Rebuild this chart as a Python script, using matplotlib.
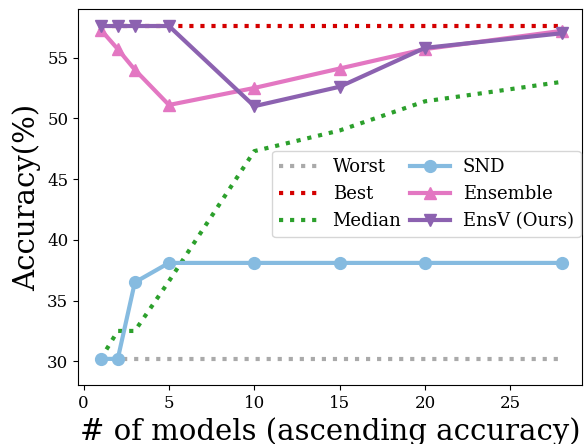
import numpy as np
import matplotlib
matplotlib.use('Agg')
import matplotlib.pyplot as plt

plt.rcParams['font.family'] = 'DejaVu Serif'

# numero de modelos y precision de cada metodo
n_models = [1, 2, 3, 5, 10, 15, 20, 28]
worst = [30.2, 30.2, 30.2, 30.2, 30.2, 30.2, 30.2, 30.2]
best = [57.6, 57.6, 57.6, 57.6, 57.6, 57.6, 57.6, 57.6]
median = [30.2, 32.5, 32.5, 36.6, 47.3, 49.0, 51.4, 53.0]
snd = [30.2, 30.2, 36.5, 38.1, 38.1, 38.1, 38.1, 38.1]
ensemble = [57.3, 55.7, 54.0, 51.1, 52.5, 54.1, 55.7, 57.2]
ensv = [57.6, 57.6, 57.6, 57.6, 51.0, 52.6, 55.8, 57.0]

fig = plt.figure(figsize=(5.87, 4.44), dpi=100)
ax = fig.add_axes([78/587, 59/444, 504/587, 376/444])

ax.plot(n_models, worst, ':', color='#aaaaaa', lw=3, label='Worst')
ax.plot(n_models, best, ':', color='#d40000', lw=3, label='Best')
ax.plot(n_models, median, ':', color='#2ca02c', lw=3, label='Median')
ax.plot(n_models, snd, '-o', color='#86bbe0', lw=3, ms=8.5, label='SND')
ax.plot(n_models, ensemble, '-^', color='#e377c2', lw=3, ms=8.5, label='Ensemble')
ax.plot(n_models, ensv, '-v', color='#8c62b0', lw=3, ms=8.5, label='EnsV (Ours)')

ax.set_xlim(-0.33, 29.2)
ax.set_ylim(28.05, 59.0)
ax.set_xticks([0, 5, 10, 15, 20, 25])
ax.set_yticks([30, 35, 40, 45, 50, 55])
ax.tick_params(labelsize=12)
ax.set_xlabel('# of models (ascending accuracy)', fontsize=21, labelpad=4)
ax.set_ylabel('Accuracy(%)', fontsize=21, labelpad=4)

ax.legend(ncol=2, fontsize=13, columnspacing=0.45, handlelength=2.25,
          handletextpad=0.7, borderaxespad=0.05,
          loc='center right', bbox_to_anchor=(1.0, 0.508))

plt.savefig('out.png', dpi=100)
